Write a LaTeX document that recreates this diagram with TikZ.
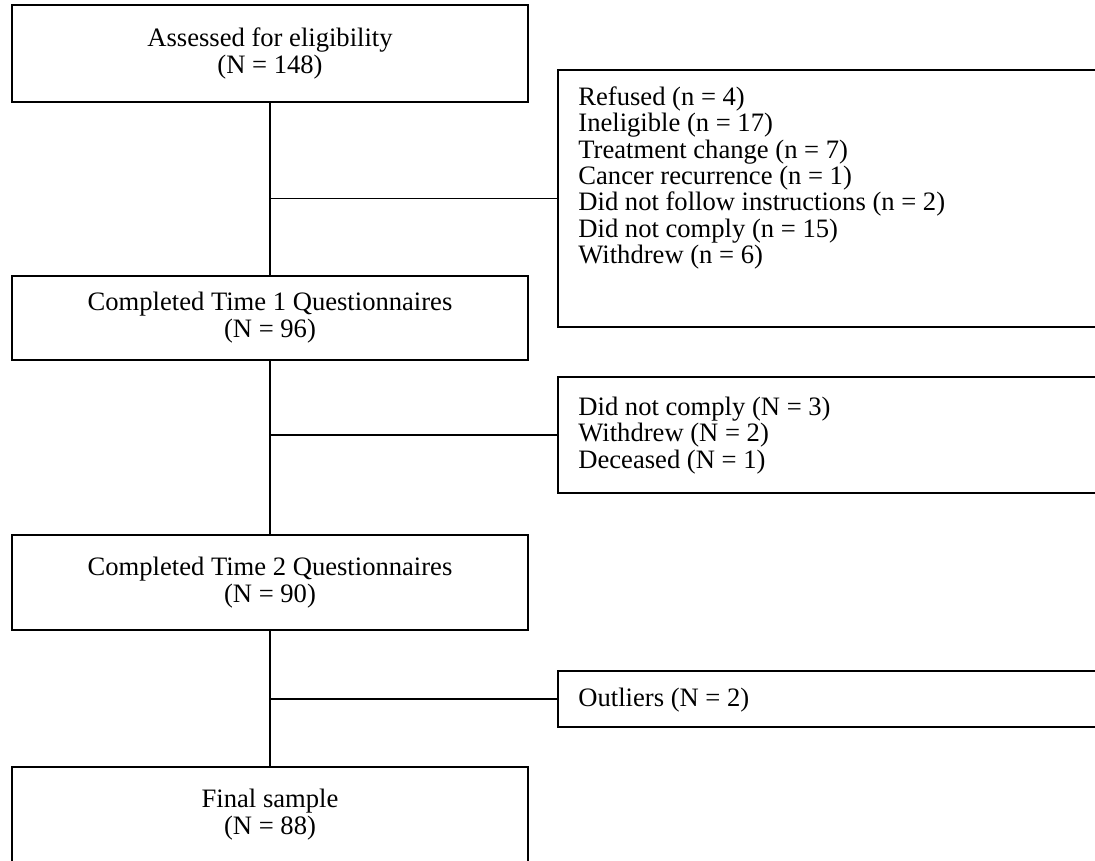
\documentclass[tikz,border=0pt]{standalone}
\usepackage{fontspec}
\setmainfont{Liberation Serif}
\tikzset{
  mainbox/.style={draw, line width=1pt, minimum width=258pt, align=center, inner sep=0pt, font=\fontsize{13.3}{13.5}\selectfont},
  sidebox/.style={draw, line width=1pt, minimum width=280pt, anchor=west, inner sep=0pt},
  sidetext/.style={anchor=west, align=left, inner sep=0pt},
  link/.style={line width=0.8pt},
}
\begin{document}
\begin{tikzpicture}[x=0.5pt, y=-0.5pt, font=\fontsize{13.3}{13.2}\selectfont]
    \useasboundingbox (0,0) rectangle (1095,860);
    \clip (0,0) rectangle (1095,860);

    \node[mainbox, minimum height=48.5pt] (assess) at (270,53.5) {Assessed for eligibility\\(N = 148)};
    \node[mainbox, minimum height=42pt] (time1) at (270,318) {Completed Time 1 Questionnaires\\(N = 96)};
    \node[mainbox, minimum height=47.5pt] (time2) at (270,582.5) {Completed Time 2 Questionnaires\\(N = 90)};
    \node[mainbox, minimum height=47.5pt] (final) at (270,814.5) {Final sample\\(N = 88)};

    \node[sidebox, minimum height=128.5pt] (excl1) at (557,198.5) {};
    \node[sidebox, minimum height=58pt] (excl2) at (557,435) {};
    \node[sidebox, minimum height=28pt] (excl3) at (557,699) {};

    \node[sidetext] (excl1txt) at (578,178) {Refused (n = 4)\\Ineligible (n = 17)\\Treatment change (n = 7)\\Cancer recurrence (n = 1)\\Did not follow instructions (n = 2)\\Did not comply (n = 15)\\Withdrew (n = 6)};
    \node[sidetext] (excl2txt) at (578,435.5) {Did not comply (N = 3)\\Withdrew (N = 2)\\Deceased (N = 1)};
    \node[sidetext] (excl3txt) at (578,700) {Outliers (N = 2)};

    \draw[link] (assess.south) -- (time1.north);
    \draw[link] (time1.south) -- (time2.north);
    \draw[link] (time2.south) -- (final.north);
    \draw[link] (assess.south |- excl1.west) -- (excl1.west);
    \draw[link] (time1.south |- excl2.west) -- (excl2.west);
    \draw[link] (time2.south |- excl3.west) -- (excl3.west);
\end{tikzpicture}
\end{document}
